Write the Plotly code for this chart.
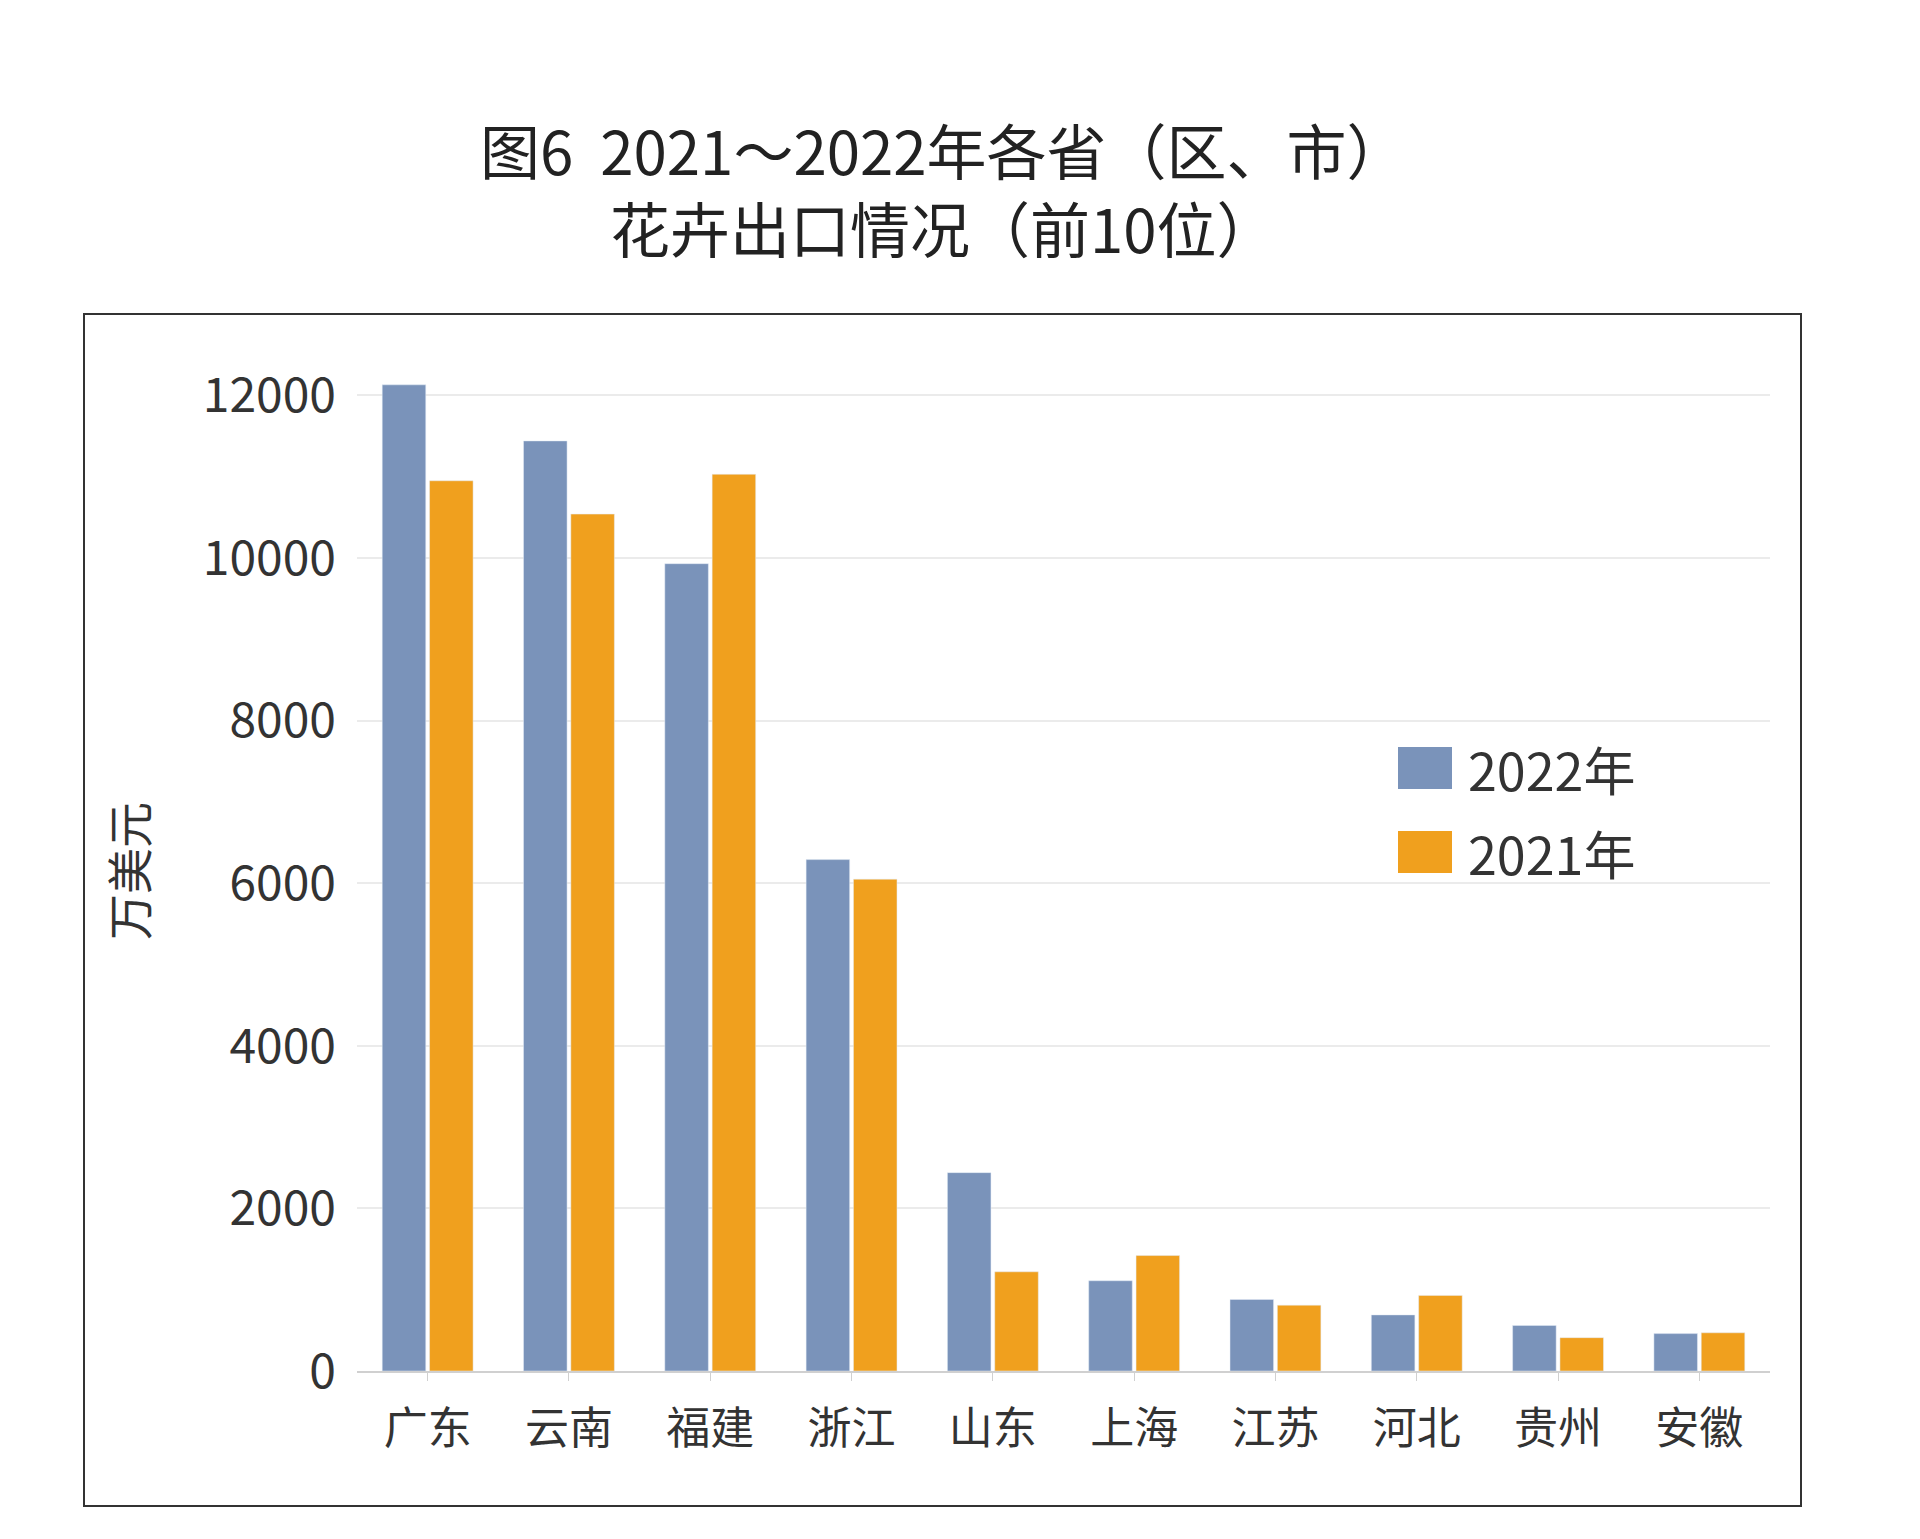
import plotly.graph_objects as go

provinces = ['广东', '云南', '福建', '浙江', '山东', '上海', '江苏', '河北', '贵州', '安徽']
v2022 = [12130, 11440, 9930, 6290, 2440, 1110, 880, 690, 560, 460]
v2021 = [10950, 10540, 11030, 6050, 1220, 1420, 810, 930, 410, 470]
yticks = [0, 2000, 4000, 6000, 8000, 10000, 12000]
series = [('2022年', v2022, '#7A93BA'), ('2021年', v2021, '#F0A01E')]

W, H = 1920, 1539
L, R, T, B = 349, 158, 363, 176
pw, ph = W - L - R, H - T - B
px = lambda x: (x - L) / pw
py = lambda y: (H - B - y) / ph

font = 'Noto Sans CJK SC'
fig = go.Figure()
for name, vals, col in series:
    fig.add_trace(go.Bar(x=provinces, y=vals, name=name, marker_color=col, showlegend=False))

fig.update_layout(
    width=W, height=H, margin=dict(l=L, r=R, t=T, b=B),
    paper_bgcolor='white', plot_bgcolor='white',
    font=dict(family=font, color='#333333', size=46),
    bargap=0.33, bargroupgap=0.08,
    xaxis=dict(showline=True, linecolor='#D0D0D0', linewidth=2,
               ticks='outside', tickcolor='#D0D0D0', ticklen=8,
               tickfont=dict(size=44), ticklabelstandoff=10),
    yaxis=dict(range=[0, 12300], tickvals=yticks, ticktext=[str(v) for v in yticks],
               showgrid=True, gridcolor='#EBEBEB', gridwidth=2, zeroline=False,
               tickfont=dict(size=48, color='#333333'), ticklabelstandoff=20,
               title=dict(text='万美元', font=dict(size=46), standoff=40)),
)
fig.add_annotation(text='图6  2021～2022年各省（区、市）<br>花卉出口情况（前10位）',
                   xref='paper', yref='paper', x=px(935), y=py(95), xanchor='center',
                   yanchor='top', showarrow=False, font=dict(size=60, color='#222222'))
# legend drawn as squares + labels
for i, (name, vals, col) in enumerate(series):
    cy = 760 + i * 84
    fig.add_shape(type='rect', xref='paper', yref='paper',
                  x0=px(1390), x1=px(1444), y0=py(cy + 21), y1=py(cy - 21),
                  fillcolor=col, line=dict(width=0))
    fig.add_annotation(text=name, xref='paper', yref='paper', x=px(1458), y=py(cy),
                       xanchor='left', yanchor='middle', showarrow=False,
                       font=dict(size=52, color='#333333'))
fig.add_shape(type='rect', xref='paper', yref='paper',
              x0=px(76), x1=px(1793), y0=py(1498), y1=py(306),
              line=dict(color='#333333', width=2))
fig.write_html('out.html')
